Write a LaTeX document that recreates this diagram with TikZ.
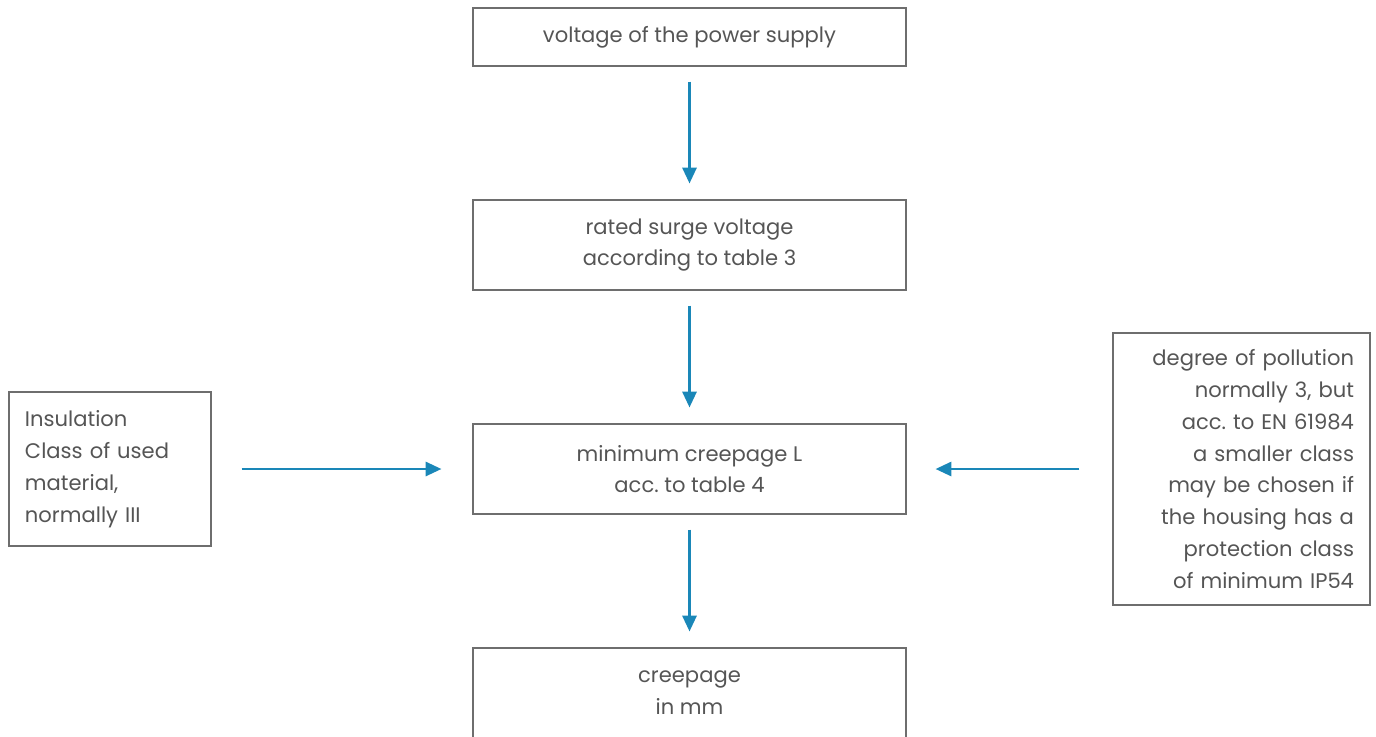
\documentclass[tikz,border=0pt]{standalone}
\usepackage{fontspec}
\setmainfont{Poppins}
\usepackage{xcolor}
\usepackage{tikz}
\usetikzlibrary{arrows.meta}
\usetikzlibrary{positioning}
\definecolor{arrowblue}{HTML}{1A87B8}
\definecolor{boxgray}{HTML}{6E6E6E}
\definecolor{textgray}{HTML}{555555}
\frenchspacing

\begin{document}
\begin{tikzpicture}[
  box/.style={draw=boxgray,line width=0.6pt,text=textgray,font=\fontsize{12}{18.1}\selectfont,minimum width=8.66cm,minimum height=1.8cm,align=center,inner sep=0pt},
  flow/.style={draw=arrowblue,line width=1.5pt,-{Triangle[length=9pt,width=8pt]}},
  ]
\clip(0,0)rectangle(27.52,-14.72);

\node[box,minimum height=1.16cm](supply)at(13.79,-0.74){voltage of the power supply};
\node[box](surge)at(13.79,-4.90){rated surge voltage\\according to table 3};
\node[box](minimum)at(13.79,-9.38){minimum creepage L\\acc. to table 4};
\node[box](creepage)at(13.79,-13.86){creepage\\in mm};

\node[box,minimum width=4.04cm,minimum height=3.08cm,text width=3.4cm,align=left](insul)at(2.20,-9.38){Insulation\\Class of used\\material,\\normally III};
\node[box,minimum width=5.14cm,minimum height=5.44cm,text width=4.5cm,align=right](pollution)at(24.83,-9.38){degree of pollution\\normally 3, but\\acc. to EN 61984\\a smaller class\\may be chosen if\\the housing has a\\protection class\\of minimum IP54};

\draw[flow,shorten <=0.3cm,shorten >=0.32cm](supply)--(surge);
\draw[flow,shorten <=0.3cm,shorten >=0.32cm](surge)--(minimum);
\draw[flow,shorten <=0.3cm,shorten >=0.32cm](minimum)--(creepage);
\draw[flow,shorten <=0.6cm,shorten >=0.62cm](insul)--(minimum);
\draw[flow,shorten <=0.66cm,shorten >=0.58cm](pollution)--(minimum);

\end{tikzpicture}
\end{document}
